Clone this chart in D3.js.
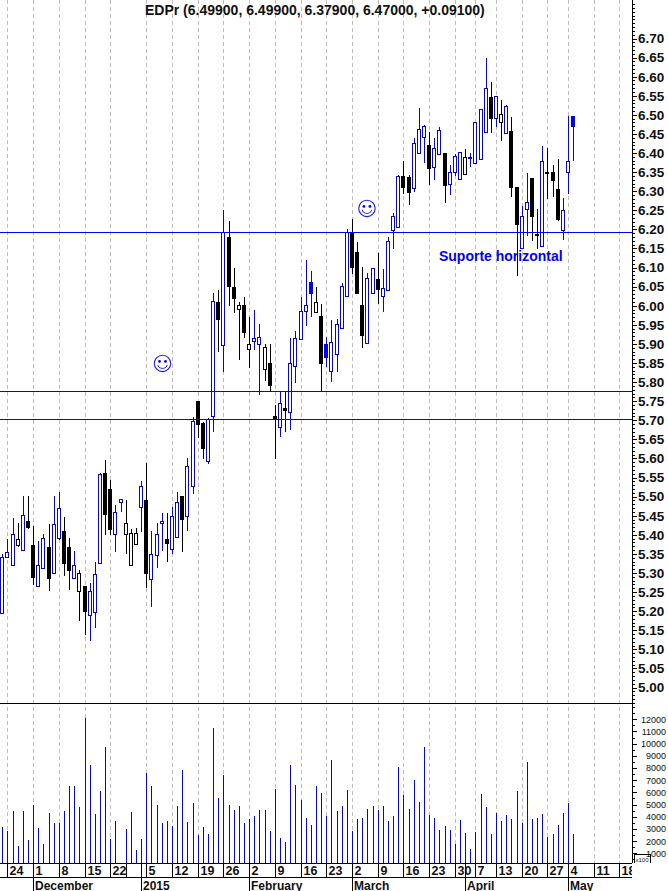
<!DOCTYPE html>
<html>
<head>
<meta charset="utf-8">
<script src="https://cdnjs.cloudflare.com/ajax/libs/d3/7.8.5/d3.min.js"></script>
<style>
  html, body { margin: 0; padding: 0; background: #fff; }
  svg { display: block; }
  text { font-family: "Liberation Sans", Arial, sans-serif; fill: #111; }
  .axis path { display: none; }
  .axis line { stroke: #000; shape-rendering: crispEdges; }
  .axis text { font-weight: bold; }
</style>
</head>
<body>
<div id="chart"></div>
<script>
const highs = [5.349,5.389,5.443,5.432,5.501,5.501,5.423,5.384,5.402,5.428,5.501,5.512,5.446,5.391,5.357,5.308,5.266,5.273,5.329,5.561,
  5.596,5.543,5.478,5.493,5.490,5.414,5.419,5.540,5.589,5.410,5.430,5.456,5.456,5.472,5.511,5.501,5.600,5.708,5.751,5.695,
  5.705,6.033,6.041,6.251,6.222,6.098,6.009,6.022,5.971,5.989,5.952,5.899,5.899,5.741,5.776,5.775,5.916,5.934,6.023,6.120,
  6.091,6.048,6.004,5.919,5.963,5.964,6.059,6.201,6.227,6.166,6.102,6.086,6.100,6.138,6.095,6.179,6.242,6.343,6.379,6.343,
  6.440,6.517,6.474,6.454,6.440,6.468,6.400,6.369,6.398,6.402,6.411,6.399,6.481,6.515,6.648,6.585,6.549,6.539,6.526,6.494,
  6.312,6.260,6.348,6.335,6.254,6.418,6.413,6.369,6.384,6.282,6.498,6.498];
const lows = [5.194,5.341,5.322,5.371,5.359,5.418,5.271,5.267,5.312,5.256,5.301,5.390,5.295,5.259,5.286,5.178,5.141,5.124,5.159,5.325,
  5.403,5.403,5.358,5.462,5.352,5.322,5.377,5.411,5.264,5.214,5.316,5.360,5.332,5.353,5.393,5.358,5.413,5.510,5.655,5.600,
  5.589,5.673,5.882,5.830,6.002,5.983,5.861,5.919,5.840,5.886,5.770,5.806,5.779,5.601,5.660,5.673,5.678,5.799,5.912,5.950,
  5.974,5.983,5.776,5.843,5.804,5.830,5.941,6.025,6.087,6.034,5.893,5.902,6.033,6.008,5.985,6.040,6.152,6.206,6.295,6.267,
  6.301,6.401,6.377,6.320,6.331,6.397,6.273,6.293,6.343,6.331,6.344,6.367,6.373,6.384,6.456,6.456,6.471,6.434,6.452,6.288,
  6.081,6.151,6.184,6.171,6.151,6.156,6.283,6.288,6.225,6.176,6.294,6.383];
const opens = [5.194,5.341,5.322,5.374,5.359,5.436,5.372,5.267,5.312,5.367,5.301,5.392,5.409,5.367,5.286,5.252,5.266,5.189,5.197,5.325,
  5.563,5.519,5.402,5.487,5.401,5.322,5.377,5.472,5.490,5.283,5.346,5.432,5.389,5.364,5.393,5.501,5.450,5.527,5.751,5.692,
  5.592,5.710,6.009,5.896,6.180,6.048,5.991,6.001,5.886,5.907,5.899,5.834,5.849,5.711,5.683,5.731,5.721,5.841,5.912,5.985,
  6.061,5.983,5.972,5.899,5.828,5.873,5.941,6.025,6.192,6.141,6.001,5.902,6.033,6.069,6.025,6.040,6.198,6.206,6.340,6.337,
  6.308,6.401,6.441,6.421,6.363,6.397,6.400,6.320,6.350,6.331,6.344,6.386,6.373,6.384,6.456,6.546,6.491,6.481,6.452,6.458,
  6.312,6.151,6.253,6.335,6.188,6.156,6.350,6.350,6.305,6.199,6.350,6.498];
const closes = [5.342,5.356,5.401,5.390,5.453,5.421,5.290,5.322,5.392,5.288,5.427,5.469,5.327,5.308,5.322,5.301,5.201,5.254,5.296,5.558,
  5.455,5.414,5.460,5.493,5.432,5.406,5.405,5.527,5.301,5.351,5.401,5.436,5.379,5.448,5.487,5.442,5.579,5.699,5.691,5.628,
  5.703,6.012,5.966,6.192,6.053,6.021,6.001,5.932,5.901,5.916,5.917,5.891,5.793,5.703,5.744,5.728,5.849,5.915,5.985,6.001,
  6.034,6.011,5.851,5.867,5.904,5.951,6.051,6.192,6.102,6.034,5.924,6.072,6.098,6.045,6.046,6.169,6.234,6.341,6.310,6.299,
  6.425,6.462,6.470,6.362,6.414,6.460,6.317,6.350,6.391,6.402,6.389,6.390,6.481,6.515,6.570,6.493,6.549,6.502,6.522,6.310,
  6.213,6.236,6.271,6.236,6.184,6.380,6.348,6.330,6.227,6.252,6.380,6.472];
// 1 = blue (up on the previous close), 0 = black
const rising = [1,1,1,0,1,0,0,1,1,0,1,1,0,0,1,0,0,1,1,1,
  0,0,1,1,0,0,0,1,0,1,1,1,0,1,1,0,1,1,0,0,
  1,1,0,1,0,0,0,0,0,1,1,0,0,0,1,0,1,1,1,1,
  1,0,0,1,1,1,1,1,0,0,0,1,1,0,1,1,1,1,0,0,
  1,1,1,0,1,1,0,1,1,1,0,1,1,1,1,0,1,0,1,0,
  0,1,1,0,0,1,0,0,0,1,1,1];
const volumes = [3162,2834,4476,1602,4476,2095,4969,3080,1766,4312,3491,3491,4476,6529,6529,4804,12112,8253,4230,6118,
  9731,2177,3655,0,2998,4394,1274,2177,7596,6529,4969,3491,3655,3244,4887,7843,3573,5133,2505,3162,
  2587,11291,5543,7432,4969,4558,4887,3491,3819,4065,4558,4558,2834,6282,2259,1930,8253,6611,5379,3900,
  3327,6529,5954,4065,8664,4476,4887,6200,2834,3819,3900,4640,4887,4558,4887,3655,4065,8089,5790,4640,
  7021,5215,9731,4148,3900,2916,3244,2916,1766,3737,2670,1356,2752,5872,4804,2587,4312,3655,4148,3819,
  6118,3491,8499,3819,3900,4230,2341,2587,3327,4312,5133,2587];

const weekSlots  = [1,6,11,16,21,28,33,38,43,48,53,58,63,68,73,78,83,88,92,96,101,106,110,115,120];
const weekLabels = ["24","1","8","15","22","5","12","19","26","2","9","16","23","2","9","16","23","30","7","13","20","27","4","11","18"];
const extraWeekSlots = [24];
const monthSlots  = [6,27,48,68,90,110];
const monthLabels = ["December","2015","February","March","April","May"];

const priceLabels  = d3.range(100, 135).map(d => d * 0.05);
const volumeLabels = d3.range(1, 13).map(d => d * 1000);
const levels = [6.192, 5.777, 5.704];
const smileys = [{ slot: 31.15, price: 5.849 }, { slot: 70.9, price: 6.255 }];

const title = "EDPr (6.49900, 6.49900, 6.37900, 6.47000, +0.09100)";
const note = { slot: 84.9, price: 6.117, text: "Suporte horizontal" };

const W = 668, H = 891;
const L = { axisX: 632, priceBottom: 703, volBottom: 863, dateBottom: 877 };

const svg = d3.select("#chart").append("svg").attr("width", W).attr("height", H);

const x = d3.scaleLinear().domain([0, 121]).range([2.3, 624.6]);
const px = i => Math.round(x(i));
const yPrice = d3.scaleLinear().domain([5.00, 6.70]).range([687.5, 38.5]);
const yVol = d3.scaleLinear().domain([1000, 12000]).range([853.3, 719.3]);

// week grid
svg.append("g").selectAll("line")
  .data(weekSlots)
  .join("line")
    .attr("x1", d => px(d) + 0.5)
    .attr("x2", d => px(d) + 0.5)
    .attr("y1", 0)
    .attr("y2", L.volBottom)
    .attr("stroke", "#bdbdbd")
    .attr("stroke-dasharray", "4,3")
    .attr("shape-rendering", "crispEdges");

// volume
svg.append("g").selectAll("line")
  .data(volumes.map((v, i) => ({ v, i })).filter(d => d.v > 0))
  .join("line")
    .attr("x1", d => px(d.i) + 0.5)
    .attr("x2", d => px(d.i) + 0.5)
    .attr("y1", L.volBottom)
    .attr("y2", d => Math.round(yVol(d.v)))
    .attr("stroke", "#0000ff")
    .attr("shape-rendering", "crispEdges");

// candles
const candles = closes.map((c, i) => ({
  i, c, o: opens[i], h: highs[i], l: lows[i],
  color: rising[i] ? "#0000ff" : "#000"
}));

const candle = svg.append("g").selectAll("g")
  .data(candles)
  .join("g")
    .attr("shape-rendering", "crispEdges");

candle.append("line")
  .attr("x1", d => px(d.i) + 0.5)
  .attr("x2", d => px(d.i) + 0.5)
  .attr("y1", d => Math.round(yPrice(d.h)))
  .attr("y2", d => Math.round(yPrice(d.l)) + 1)
  .attr("stroke", d => d.color);

candle.append("rect")
  .attr("x", d => px(d.i) - 1.5)
  .attr("width", 3)
  .attr("y", d => Math.round(yPrice(Math.max(d.o, d.c))) + 0.5)
  .attr("height", d => Math.max(1, Math.round(yPrice(Math.min(d.o, d.c))) - Math.round(yPrice(Math.max(d.o, d.c)))))
  .attr("stroke", d => d.color)
  .attr("fill", d => d.c > d.o ? "#fff" : d.color);

// level lines
svg.append("g").selectAll("line")
  .data(levels)
  .join("line")
    .attr("x1", 0)
    .attr("x2", L.axisX)
    .attr("y1", d => Math.round(yPrice(d)) + 0.5)
    .attr("y2", d => Math.round(yPrice(d)) + 0.5)
    .attr("stroke", "#0000ff")
    .attr("shape-rendering", "crispEdges");

// smileys
const mouth = d3.arc().innerRadius(4.6).outerRadius(5.4).startAngle(Math.PI * 0.6).endAngle(Math.PI * 1.4);
const smiley = svg.append("g").selectAll("g")
  .data(smileys)
  .join("g")
    .attr("transform", d => `translate(${x(d.slot)},${yPrice(d.price)})`);
smiley.append("circle").attr("r", 8.2).attr("fill", "none").attr("stroke", "#1a1aff").attr("stroke-width", 1.1);
smiley.append("circle").attr("cx", -3).attr("cy", -2).attr("r", 1.4).attr("fill", "#0000ff");
smiley.append("circle").attr("cx", 3).attr("cy", -2).attr("r", 1.4).attr("fill", "#0000ff");
smiley.append("path").attr("d", mouth).attr("fill", "#0000ff");

svg.append("text")
  .attr("x", x(note.slot))
  .attr("y", yPrice(note.price))
  .attr("font-size", 14)
  .attr("font-weight", "bold")
  .style("fill", "#0000ff")
  .text(note.text);

svg.append("text")
  .attr("x", 145)
  .attr("y", 15)
  .attr("font-size", 14)
  .attr("font-weight", "bold")
  .text(title);

// frame lines
const frame = svg.append("g").attr("stroke", "#000").attr("shape-rendering", "crispEdges");
[L.priceBottom, L.volBottom, L.dateBottom].forEach(y => {
  frame.append("line").attr("x1", 0).attr("x2", L.axisX).attr("y1", y + 0.5).attr("y2", y + 0.5);
});
frame.append("line").attr("x1", L.axisX + 0.5).attr("x2", L.axisX + 0.5).attr("y1", 0).attr("y2", L.volBottom);

// price axis
const priceAxis = svg.append("g").attr("class", "axis").attr("transform", `translate(${L.axisX},0)`);
priceAxis.append("g")
  .call(d3.axisRight(yPrice)
    .tickValues(d3.range(496, 680).map(d => d / 100))
    .tickSize(3).tickFormat(""));
priceAxis.append("g")
  .call(d3.axisRight(yPrice)
    .tickValues(priceLabels)
    .tickSize(5).tickPadding(1).tickFormat(d3.format(".2f")))
  .call(g => g.selectAll("text").attr("font-size", 13.5).attr("font-family", "Liberation Sans"));
priceAxis.selectAll("text").filter(function () { return +this.textContent < 5 || +this.textContent > 6.7; }).remove();

// volume axis
const volAxis = svg.append("g").attr("class", "axis").attr("transform", `translate(${L.axisX},0)`);
volAxis.append("g")
  .call(d3.axisRight(yVol)
    .tickValues(d3.range(500, 13500, 500))
    .tickSize(3).tickFormat(""));
volAxis.append("g")
  .call(d3.axisRight(yVol)
    .tickValues(volumeLabels)
    .tickSize(5).tickFormat(d3.format("d")))
  .call(g => g.selectAll("text")
    .attr("x", 34)
    .attr("text-anchor", "end")
    .attr("font-size", 9)
    .style("font-weight", "normal"));

// x100 box
const scaleBox = svg.append("g");
scaleBox.append("path")
  .attr("d", d3.line()([[634.5, 863], [634.5, 854.5], [650.5, 854.5], [650.5, 863]]))
  .attr("fill", "none").attr("stroke", "#000").attr("shape-rendering", "crispEdges");
scaleBox.append("text").attr("x", 635.5).attr("y", 862).attr("font-size", 6).text("x100");

// date rows
const clip = svg.append("clipPath").attr("id", "dates-clip");
clip.append("rect").attr("x", 0).attr("y", L.volBottom).attr("width", L.axisX).attr("height", H - L.volBottom);
const dates = svg.append("g").attr("clip-path", "url(#dates-clip)");

dates.selectAll(".week-tick")
  .data(weekSlots.concat(extraWeekSlots))
  .join("line")
    .attr("class", "week-tick")
    .attr("x1", d => px(d) + 0.5)
    .attr("x2", d => px(d) + 0.5)
    .attr("y1", L.volBottom)
    .attr("y2", L.dateBottom)
    .attr("stroke", "#000")
    .attr("shape-rendering", "crispEdges");

dates.selectAll(".month-tick")
  .data(monthSlots)
  .join("line")
    .attr("class", "month-tick")
    .attr("x1", d => px(d) + 0.5)
    .attr("x2", d => px(d) + 0.5)
    .attr("y1", L.volBottom)
    .attr("y2", H)
    .attr("stroke", "#000")
    .attr("shape-rendering", "crispEdges");

dates.selectAll(".week-label")
  .data(weekSlots)
  .join("text")
    .attr("class", "week-label")
    .attr("x", d => px(d) + 2.5)
    .attr("y", 875)
    .attr("font-size", 12.5)
    .attr("font-weight", "bold")
    .text((d, i) => weekLabels[i]);

dates.selectAll(".month-label")
  .data(monthSlots)
  .join("text")
    .attr("class", "month-label")
    .attr("x", d => px(d) + 2)
    .attr("y", 889.5)
    .attr("font-size", 12)
    .attr("font-weight", "bold")
    .text((d, i) => monthLabels[i]);
</script>
</body>
</html>
